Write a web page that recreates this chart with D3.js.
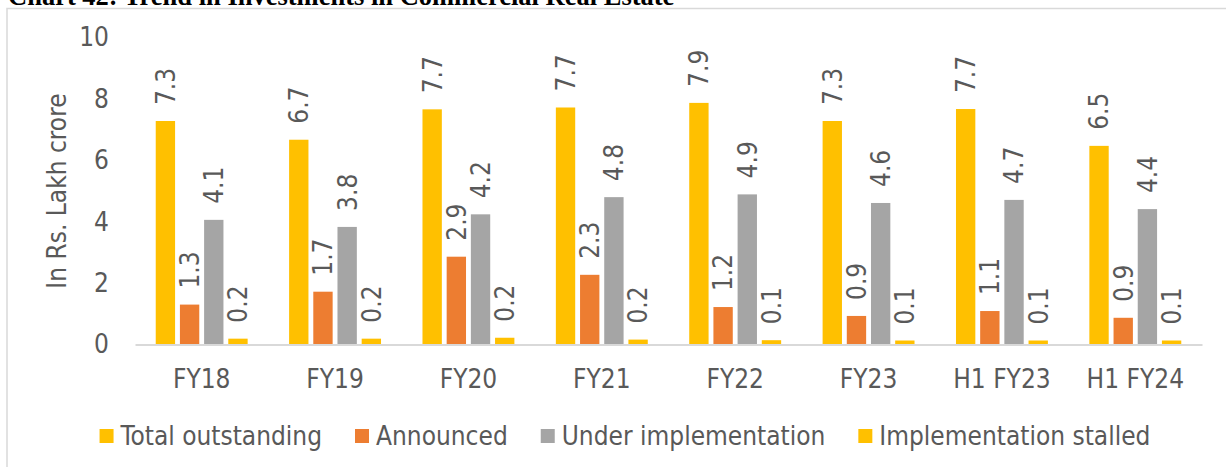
<!DOCTYPE html>
<html>
<head>
<meta charset="utf-8">
<script src="https://cdn.jsdelivr.net/npm/d3@7"></script>
<style>
  html, body { margin: 0; padding: 0; background: #fff; overflow: hidden; }
  svg { display: block; }
  .lbl { font-family: "DejaVu Sans Condensed", "DejaVu Sans", sans-serif; font-stretch: condensed; fill: #595959; }
</style>
</head>
<body>
<script>
const title = "Chart 42: Trend in Investments in Commercial Real Estate";
const categories = ["FY18", "FY19", "FY20", "FY21", "FY22", "FY23", "H1 FY23", "H1 FY24"];
const seriesNames = ["Total outstanding", "Announced", "Under implementation", "Implementation stalled"];
const totalOutstanding = [7.28, 6.67, 7.66, 7.72, 7.87, 7.28, 7.67, 6.47];
const announced = [1.30, 1.72, 2.86, 2.27, 1.22, 0.93, 1.09, 0.87];
const underImplementation = [4.06, 3.83, 4.24, 4.80, 4.89, 4.61, 4.71, 4.41];
const implementationStalled = [0.19, 0.19, 0.22, 0.16, 0.14, 0.13, 0.13, 0.13];
const yTicks = [0, 2, 4, 6, 8, 10];
const yTitle = "In Rs. Lakh crore";
const colors = ["#FFC000", "#ED7D31", "#A5A5A5", "#FFC000"];

const seriesValues = [totalOutstanding, announced, underImplementation, implementationStalled];

const W = 1226, H = 467;
const svg = d3.select("body").append("svg").attr("width", W).attr("height", H);

// title (clipped at top, as in the source)
svg.append("text")
  .attr("x", 8).attr("y", 4.5)
  .attr("font-family", "'Liberation Serif', 'Times New Roman', serif")
  .attr("font-weight", "bold")
  .attr("font-size", 26.5)
  .attr("fill", "#000")
  .text(title);

// chart border
svg.append("rect")
  .attr("x", 7).attr("y", 8.5)
  .attr("width", W + 10).attr("height", H + 10)
  .attr("fill", "none").attr("stroke", "#d9d9d9").attr("stroke-width", 1.5);

const x0 = d3.scaleBand().domain(categories).range([135, 1202]).padding(0);
const x1 = d3.scaleBand().domain(seriesNames).range([0, x0.bandwidth()]).paddingInner(0.2).paddingOuter(0.857);
const y = d3.scaleLinear().domain([0, 10]).range([344.5, 37.5]);

// y axis (labels only)
const yAxis = svg.append("g").attr("transform", "translate(135,0)")
  .call(d3.axisLeft(y).tickValues(yTicks).tickSize(0).tickPadding(26).tickFormat(d3.format("d")));
yAxis.select(".domain").remove();
yAxis.selectAll("text").attr("class", "lbl").attr("font-size", 26).attr("fill", "#595959")
  .style("font-family", "'DejaVu Sans Condensed', 'DejaVu Sans', sans-serif");

// y title
svg.append("text").attr("class", "lbl")
  .attr("transform", "translate(66,191) rotate(-90)")
  .attr("text-anchor", "middle")
  .attr("font-size", 26)
  .text(yTitle);

// bars
const groups = svg.append("g").selectAll("g").data(categories).join("g")
  .attr("transform", d => `translate(${x0(d)},0)`);

groups.each(function(cat, ci) {
  const g = d3.select(this);
  seriesNames.forEach((s, si) => {
    const v = seriesValues[si][ci];
    g.append("rect")
      .attr("x", x1(s)).attr("width", x1.bandwidth())
      .attr("y", y(v)).attr("height", y(0) - y(v))
      .attr("fill", colors[si]);
    g.append("text").attr("class", "lbl")
      .attr("transform", `translate(${x1(s) + x1.bandwidth() / 2},${y(v) - 16}) rotate(-90)`)
      .attr("dy", "0.36em")
      .attr("text-anchor", "start")
      .attr("font-size", 26)
      .text(v.toFixed(1));
  });
});

// x axis
const xAxis = svg.append("g").attr("transform", `translate(0,${y(0)})`)
  .call(d3.axisBottom(x0).tickSize(0).tickPadding(25));
xAxis.select(".domain").attr("stroke", "#d9d9d9").attr("stroke-width", 2);
xAxis.selectAll("text").attr("font-size", 26).attr("fill", "#595959")
  .style("font-family", "'DejaVu Sans Condensed', 'DejaVu Sans', sans-serif");

// legend
const legend = svg.append("g");
let lx = 0;
seriesNames.forEach((s, i) => {
  const item = legend.append("g").attr("transform", `translate(${lx},0)`);
  item.append("rect").attr("x", 0).attr("y", 429).attr("width", 14).attr("height", 14).attr("fill", colors[i]);
  const t = item.append("text").attr("class", "lbl")
    .attr("x", 21).attr("y", 436).attr("dy", "0.36em")
    .attr("font-size", 26).text(s);
  const w = t.node().getComputedTextLength();
  lx += 21 + w + 33;
});
const totalW = lx - 33;
legend.attr("transform", `translate(${625 - totalW / 2},0)`);
</script>
</body>
</html>
